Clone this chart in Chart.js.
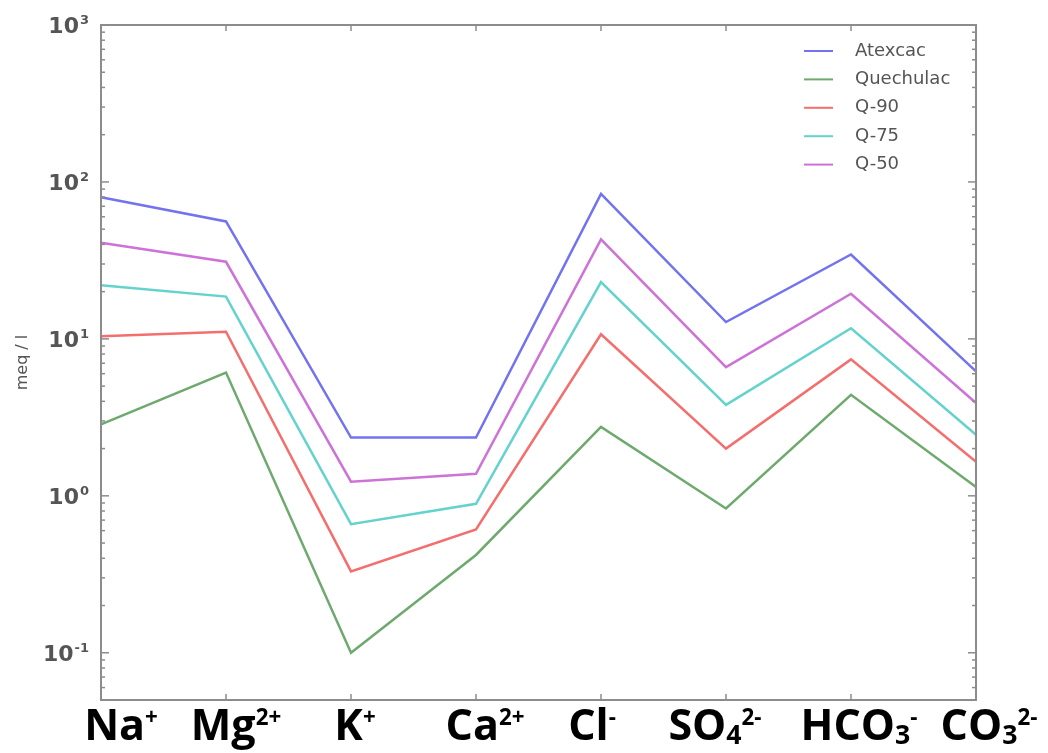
<!DOCTYPE html>
<html>
<head>
<meta charset="utf-8">
<script src="https://cdn.jsdelivr.net/npm/chart.js@4.4.1/dist/chart.umd.min.js"></script>
<style>
  html, body { margin: 0; padding: 0; background: #fff; }
  canvas { display: block; }
</style>
</head>
<body>
<canvas id="myChart" width="1048" height="753"></canvas>
<script>
// ions on the x axis
const categories = ["Na⁺", "Mg²⁺", "K⁺", "Ca²⁺", "Cl⁻", "SO₄²⁻", "HCO₃⁻", "CO₃²⁻"];

// meq / l
const atexcac   = [80, 56, 2.35, 2.35, 84, 12.8, 34.5, 6.2];
const quechulac = [2.85, 6.1, 0.10, 0.42, 2.75, 0.83, 4.4, 1.14];
const q90       = [10.4, 11.1, 0.33, 0.61, 10.7, 2.0, 7.4, 1.65];
const q75       = [22, 18.6, 0.66, 0.89, 23, 3.8, 11.7, 2.45];
const q50       = [41, 31, 1.23, 1.38, 43, 6.6, 19.4, 3.9];

const seriesNames = ["Atexcac", "Quechulac", "Q-90", "Q-75", "Q-50"];
const yTicks = [0.1, 1, 10, 100, 1000];

const colors = {
    blue: "rgb(115, 115, 240)",
    green: "rgb(110, 170, 110)",
    red: "rgb(245, 110, 110)",
    cyan: "rgb(100, 210, 205)",
    magenta: "rgb(205, 115, 215)"
};

// the ion labels in the original sit a bit off their ticks
const labelShift = [20, 10, 4, 9, -9, -11, 8, 13];

const supMap = {"⁺": "+", "⁻": "-", "²": "2", "³": "3", "¹": "1", "⁰": "0"};
const subMap = {"₃": "3", "₄": "4"};

// split "SO₄²⁻" into runs of normal / sub / sup text
function parts(label) {
    const out = [];
    for (const ch of label) {
        let kind = "n", t = ch;
        if (supMap[ch]) { kind = "sup"; t = supMap[ch]; }
        else if (subMap[ch]) { kind = "sub"; t = subMap[ch]; }
        if (out.length && out[out.length - 1].kind === kind) out[out.length - 1].t += t;
        else out.push({kind, t});
    }
    return out;
}

function drawRich(ctx, label, cx, baseY, size, font) {
    const ps = parts(label);
    const sz = k => k === "n" ? size : (k === "sub" ? size * 0.62 : size * 0.52);
    let w = 0;
    ps.forEach(p => {
        ctx.font = `bold ${sz(p.kind)}px ${font}`;
        p.w = ctx.measureText(p.t).width;
        w += p.w;
    });
    let x = cx - w / 2;
    ctx.textAlign = "left";
    ctx.textBaseline = "alphabetic";
    ps.forEach(p => {
        ctx.font = `bold ${sz(p.kind)}px ${font}`;
        let yy = baseY;
        if (p.kind === "sup") yy = baseY - size * 0.36;
        if (p.kind === "sub") yy = baseY + size * 0.1;
        ctx.fillText(p.t, x, yy);
        x += p.w;
    });
}

const framePlugin = {
    id: "frame",
    afterDraw(chart) {
        const {ctx, chartArea: a, scales: {x, y}} = chart;
        ctx.save();
        const line = (x1, y1, x2, y2) => {
            ctx.beginPath(); ctx.moveTo(x1, y1); ctx.lineTo(x2, y2); ctx.stroke();
        };

        // frame
        ctx.strokeStyle = "#8c8c8c";
        ctx.lineWidth = 2;
        ctx.strokeRect(a.left, a.top, a.right - a.left, a.bottom - a.top);

        // inside ticks on the log axis, major and minor, both sides
        ctx.lineWidth = 1.5;
        for (let d = -2; d <= 3; d++) {
            for (let k = 1; k <= 9; k++) {
                const v = k * Math.pow(10, d);
                if (v < y.min || v > y.max) continue;
                const py = y.getPixelForValue(v);
                const len = k === 1 ? 8 : 4;
                line(a.left, py, a.left + len, py);
                line(a.right, py, a.right - len, py);
            }
        }
        // category ticks top and bottom
        categories.forEach((c, i) => {
            const px = x.getPixelForValue(i);
            line(px, a.bottom, px, a.bottom - 6);
            line(px, a.top, px, a.top + 6);
        });

        // y tick labels 10^n
        ctx.fillStyle = "#555";
        yTicks.forEach(v => {
            const py = y.getPixelForValue(v);
            const e = String(Math.round(Math.log10(v)));
            ctx.font = "bold 13px 'DejaVu Sans'";
            const ew = ctx.measureText(e).width;
            ctx.textAlign = "right";
            ctx.textBaseline = "alphabetic";
            ctx.fillText(e, a.left - 12, py - 1);
            ctx.font = "bold 22px 'DejaVu Sans'";
            ctx.fillText("10", a.left - 13 - ew, py + 8);
        });

        // x tick labels
        ctx.fillStyle = "#000";
        categories.forEach((c, i) => {
            const px = x.getPixelForValue(i);
            drawRich(ctx, c, px + labelShift[i], a.bottom + 40, 43, "'Open Sans', 'DejaVu Sans', sans-serif");
        });

        // legend inside the plot, top right
        chart.data.datasets.forEach((ds, i) => {
            const ly = a.top + 26 + i * 28.4;
            ctx.strokeStyle = ds.borderColor;
            ctx.lineWidth = 2;
            line(a.right - 172, ly, a.right - 143, ly);
            ctx.fillStyle = "#555";
            ctx.font = "18px 'DejaVu Sans'";
            ctx.textAlign = "left";
            ctx.textBaseline = "middle";
            ctx.fillText(ds.label, a.right - 121, ly);
        });
        ctx.restore();
    }
};

const series = [atexcac, quechulac, q90, q75, q50];
const seriesColors = [colors.blue, colors.green, colors.red, colors.cyan, colors.magenta];

const data = {
    labels: categories,
    datasets: series.map((vals, i) => ({
        label: seriesNames[i],
        data: vals,
        borderColor: seriesColors[i],
        backgroundColor: seriesColors[i],
        borderWidth: 2.5,
        pointRadius: 0,
        tension: 0,
        fill: false
    }))
};

const config = {
    type: "line",
    data: data,
    options: {
        responsive: false,
        animation: false,
        layout: {padding: {top: 25, right: 72, bottom: 53, left: 0}},
        plugins: {legend: {display: false}, tooltip: {enabled: false}},
        scales: {
            x: {
                type: "category",
                offset: false,
                grid: {display: false, drawTicks: false},
                border: {display: false},
                ticks: {display: false},
                afterFit(s) { s.height = 0; }
            },
            y: {
                type: "logarithmic",
                min: 0.05,
                max: 1000,
                grid: {display: false, drawTicks: false},
                border: {display: false},
                ticks: {display: false},
                title: {
                    display: true,
                    text: "meq / l",
                    color: "#555",
                    font: {family: "'DejaVu Sans'", size: 16},
                    padding: {top: 13, bottom: 0}
                },
                afterFit(s) { s.width = 101; }
            }
        }
    },
    plugins: [framePlugin]
};

const myChart = new Chart(document.getElementById("myChart").getContext("2d"), config);
</script>
</body>
</html>
